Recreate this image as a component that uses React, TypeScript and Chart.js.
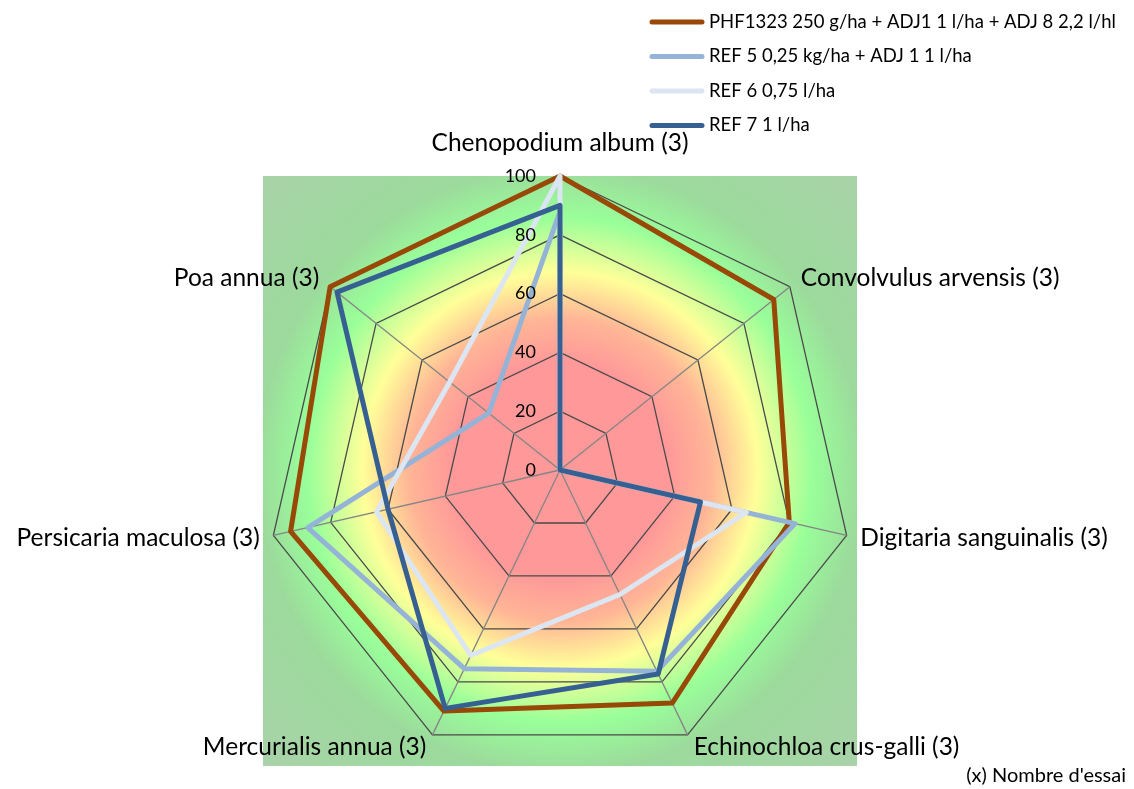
import React, { useEffect, useRef } from "react";
import { Chart, registerables } from "chart.js";
Chart.register(...registerables);

const categories = [
  "Chenopodium album (3)",
  "Convolvulus arvensis (3)",
  "Digitaria sanguinalis (3)",
  "Echinochloa crus-galli (3)",
  "Mercurialis annua (3)",
  "Persicaria maculosa (3)",
  "Poa annua (3)",
];
const seriesNames = [
  "PHF1323 250 g/ha + ADJ1 1 l/ha + ADJ 8 2,2 l/hl",
  "REF 5 0,25 kg/ha + ADJ 1 1 l/ha",
  "REF 6 0,75 l/ha",
  "REF 7 1 l/ha",
];
const phf1323 = [100, 93, 80, 88, 91, 94, 100];
const ref5 = [88, 0, 82, 76, 75, 88, 31];
const ref6 = [100, 0, 65, 47, 70, 64, 48];
const ref7 = [90, 0, 49, 77, 90, 60, 97];
const tickValues = [0, 20, 40, 60, 80, 100];
const footnote = "(x) Nombre d'essai";

const seriesColors = ["#984807", "#95B3D7", "#DCE6F2", "#376092"];
const FONT = "Lato, 'Liberation Sans', sans-serif";

export default function App() {
  const ref = useRef<HTMLCanvasElement | null>(null);
  useEffect(() => {
    const canvas = ref.current!;
    const allSeries = [phf1323, ref5, ref6, ref7];

    const bgPlugin = {
      id: "bgGradient",
      beforeDraw(chart: any) {
        const s = chart.scales.r;
        const ctx = chart.ctx;
        const cx = s.xCenter, cy = s.yCenter, R = s.drawingArea;
        const g = ctx.createRadialGradient(cx, cy, 0, cx, cy, R * 1.43);
        g.addColorStop(0, "#ff9999");
        g.addColorStop(0.26, "#ff9999");
        g.addColorStop(0.36, "#ffb596");
        g.addColorStop(0.47, "#ffff99");
        g.addColorStop(0.6, "#99ff99");
        g.addColorStop(0.72, "#9cda9c");
        g.addColorStop(1, "#a9d2a9");
        ctx.save();
        ctx.fillStyle = g;
        ctx.fillRect(cx - R - 3, cy - R, 2 * R + 6, 2 * R + 2);
        ctx.restore();
      },
    };

    const labelPlugin = {
      id: "labels",
      afterDatasetsDraw(chart: any) {
        const s = chart.scales.r;
        const ctx = chart.ctx;
        ctx.save();
        ctx.fillStyle = "#000";
        ctx.font = `18px ${FONT}`;
        ctx.textAlign = "right";
        ctx.textBaseline = "middle";
        tickValues.forEach((v) => {
          const d = s.getDistanceFromCenterForValue(v);
          ctx.fillText(String(v), s.xCenter - 24, s.yCenter - d);
        });
        ctx.restore();
      },
      afterDraw(chart: any) {
        const s = chart.scales.r;
        const ctx = chart.ctx;
        const R = s.drawingArea;
        ctx.save();
        ctx.fillStyle = "#000";
        ctx.font = `24.5px ${FONT}`;
        categories.forEach((c, i) => {
          if (i === 0) {
            const p = s.getPointPosition(i, R + 33);
            ctx.textAlign = "center";
            ctx.textBaseline = "middle";
            ctx.fillText(c, p.x, p.y);
            return;
          }
          const p = s.getPointPosition(i, R + 14);
          ctx.textAlign = p.x > s.xCenter ? "left" : "right";
          ctx.textBaseline = "middle";
          ctx.fillText(c, p.x, p.y);
        });
        // legend
        ctx.font = `18.5px ${FONT}`;
        ctx.textAlign = "left";
        ctx.textBaseline = "middle";
        seriesNames.forEach((n, i) => {
          const y = 22 + i * 34.5;
          ctx.strokeStyle = seriesColors[i];
          ctx.lineWidth = 5;
          ctx.lineCap = "round";
          ctx.beginPath();
          ctx.moveTo(652, y);
          ctx.lineTo(702, y);
          ctx.stroke();
          ctx.fillStyle = "#000";
          ctx.fillText(n, 709, y);
        });
        ctx.font = `20px ${FONT}`;
        ctx.textAlign = "right";
        ctx.fillText(footnote, 1126, 776);
        ctx.restore();
      },
    };

    const chart = new Chart(canvas, {
      type: "radar",
      data: {
        labels: categories,
        datasets: allSeries.map((d, i) => ({
          label: seriesNames[i],
          data: d,
          borderColor: seriesColors[i],
          backgroundColor: "transparent",
          borderWidth: 5,
          borderJoinStyle: "round" as const,
          pointRadius: 0,
          fill: false,
          tension: 0,
          order: 4 - i,
        })),
      },
      options: {
        responsive: false,
        animation: false,
        layout: { padding: { left: 266, right: 280, top: 176, bottom: 25 } },
        plugins: { legend: { display: false }, tooltip: { enabled: false } },
        scales: {
          r: {
            min: 0,
            max: 100,
            ticks: { display: false, stepSize: 20 },
            grid: { color: "#4a4a4a", lineWidth: 1.3 },
            angleLines: { color: "#858585", lineWidth: 1.3 },
            pointLabels: { display: false },
          },
        },
      },
      plugins: [bgPlugin, labelPlugin],
    });
    return () => chart.destroy();
  }, []);
  return (
    <div style={{ position: "absolute", left: 0, top: 0, width: 1134, height: 789, background: "#fff" }}>
      <canvas ref={ref} width={1134} height={789} style={{ display: "block" }} />
    </div>
  );
}
